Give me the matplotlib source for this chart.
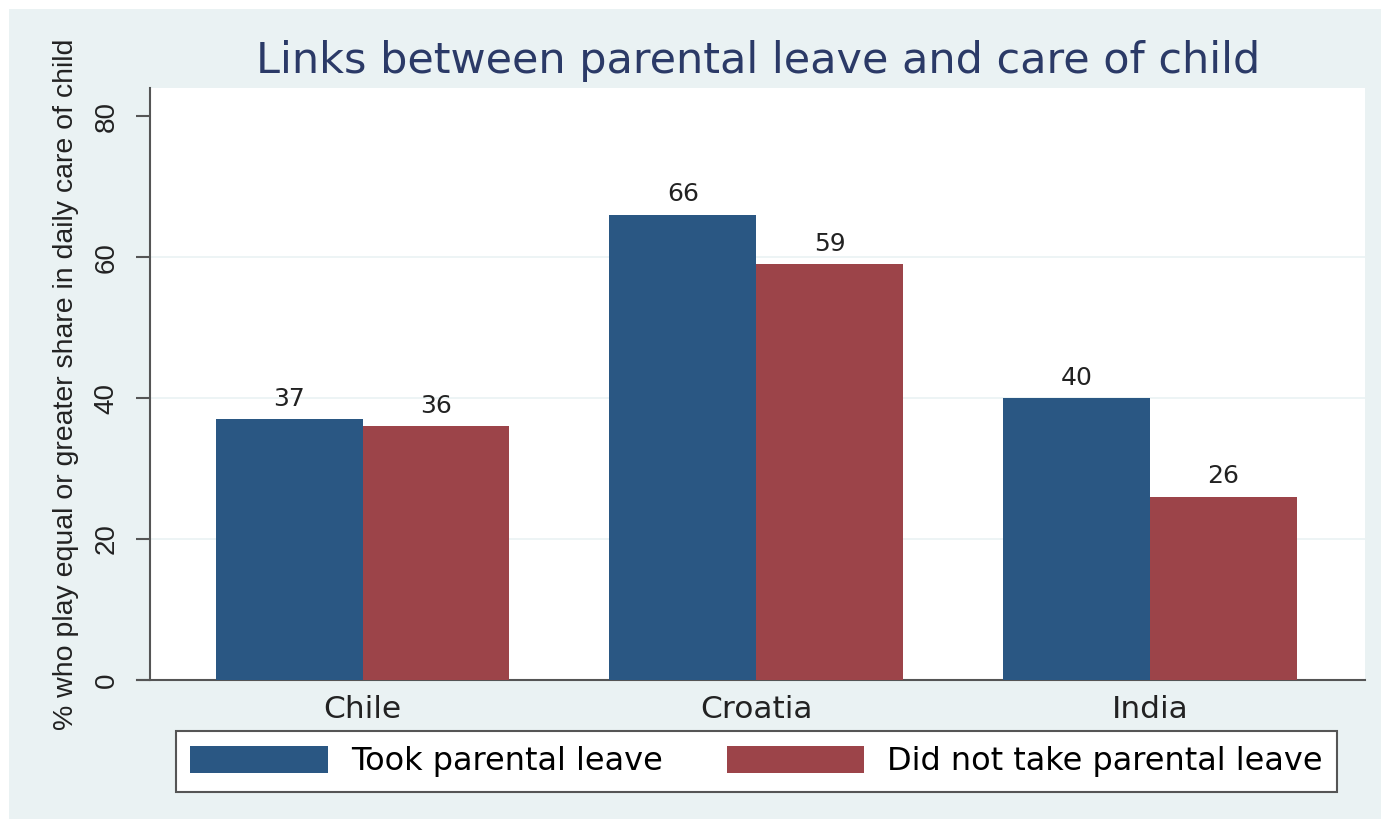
import matplotlib
matplotlib.use("Agg")
import matplotlib.pyplot as plt
import numpy as np
from matplotlib.patches import Rectangle

# data
countries = ["Chile", "Croatia", "India"]
took_leave = [37, 66, 40]
no_leave = [36, 59, 26]
series_names = ["Took parental leave", "Did not take parental leave"]
y_ticks = [0, 20, 40, 60, 80]

blue = "#2a5783"
red = "#9c4449"
bg = "#eaf2f3"

W, H = 1381, 819
fig = plt.figure(figsize=(W / 100, H / 100), dpi=100)
fig.patch.set_facecolor("white")
# light background with a thin white margin at top/left
fig.patches.append(Rectangle((9 / W, 0), 1, 1 - 9 / H, transform=fig.transFigure,
                             facecolor=bg, edgecolor="none", zorder=-10))

ax = fig.add_axes([150 / W, 1 - 680 / H, (1365 - 150) / W, (680 - 88) / H])
ax.set_facecolor("white")

x = np.arange(len(countries))
w = 0.373
b1 = ax.bar(x - w / 2, took_leave, w, color=blue, label=series_names[0], zorder=3)
b2 = ax.bar(x + w / 2, no_leave, w, color=red, label=series_names[1], zorder=3)

for bars in (b1, b2):
    for r in bars:
        ax.text(r.get_x() + r.get_width() / 2, r.get_height() + 1.2, f"{r.get_height():.0f}",
                ha="center", va="bottom", fontsize=18, color="#222222",
                family="DejaVu Sans", zorder=4)

ax.set_xlim(-0.54, 2.546)
ax.set_ylim(0, 84)
ax.set_yticks(y_ticks)
ax.set_yticklabels([str(t) for t in y_ticks], rotation=90, va="center",
                   fontsize=20, family="Liberation Sans", color="#222222")
ax.set_xticks(x)
ax.set_xticklabels(countries, fontsize=22.5, family="DejaVu Sans", color="#222222")
ax.tick_params(axis="x", length=0, pad=11)
ax.tick_params(axis="y", length=10, width=1.5, color="#555555", pad=12)

for t in y_ticks[1:-1]:
    ax.axhline(t, color=bg, lw=1.2, zorder=1)

for s in ("top", "right"):
    ax.spines[s].set_visible(False)
for s in ("left", "bottom"):
    ax.spines[s].set_color("#555555")
    ax.spines[s].set_linewidth(1.5)
ax.spines["bottom"].set_bounds(-0.54 - 13 / 394, 2.546)

fig.text(758 / W, 1 - 61 / H, "Links between parental leave and care of child",
         ha="center", va="center", fontsize=31, color="#2b3a67", family="DejaVu Sans")
fig.text(66 / W, 1 - 384 / H, "% who play equal or greater share in daily care of child",
         ha="center", va="center", rotation=90, fontsize=20.5,
         family="Liberation Sans", color="#222222")

leg = fig.legend(handles=[b1, b2], labels=series_names, ncol=2, loc="center",
                 bbox_to_anchor=(756.5 / W, 57.5 / H), prop={"family": "DejaVu Sans", "size": 23},
                 handlelength=4.3, handleheight=0.94, handletextpad=0.72,
                 columnspacing=2.0, borderpad=0.45, fancybox=False, framealpha=1)
leg.get_frame().set_edgecolor("#555555")
leg.get_frame().set_linewidth(1.5)
leg.get_frame().set_facecolor("white")

fig.savefig("out.png", dpi=100, facecolor=fig.get_facecolor())
